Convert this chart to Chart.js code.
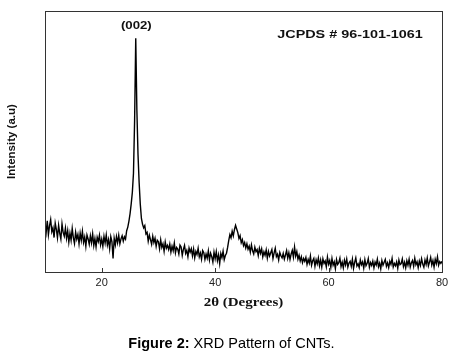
<!DOCTYPE html>
<html>
<head>
<meta charset="utf-8">
<script src="https://cdn.jsdelivr.net/npm/chart.js@4.4.1/dist/chart.umd.min.js"></script>
<style>
  html, body { margin: 0; padding: 0; background: #fff; }
  canvas { display: block; }
</style>
</head>
<body>
<canvas id="xrd" width="454" height="363"></canvas>
<script>
// 2-theta scan: 10 to 80 degrees, one reading every 0.2 degree
const thetaStart = 10;
const thetaStep = 0.2;
const tickLabels = [20, 40, 60, 80];
const peakLabels = ['(002)'];
const refCard = 'JCPDS # 96-101-1061';

// intensity (a.u.), rows of 2 degrees
const intensity = [
  18.2,15.1,19.6,14.3,17.8,20.1,15.4,16.9,13.2,18.7,
  16.3,13.1,17.9,14.8,12.6,18.4,15.2,13.7,16.8,12.9,
  15.8,11.4,14.9,12.2,16.7,13.1,10.9,15.3,12.6,14.4,
  10.8,14.9,12.1,15.6,11.3,13.4,9.8,14.2,12.7,10.6,
  13.9,11.2,14.6,10.1,12.8,9.6,13.3,11.7,14.1,10.4,
  12.6,9.8,13.7,11.1,14.2,10.3,12.4,8.9,13.5,11.6,
  5.2,12.9,10.4,13.6,11.2,14.1,10.8,12.7,13.9,11.8,
  13.5,12.6,15.8,17.2,19.5,22.4,26.1,30.5,37.8,58.0,
  89.6,62.0,45.0,34.2,26.0,20.5,18.3,16.9,17.8,14.6,
  15.2,11.8,14.1,12.4,10.6,13.7,11.3,12.9,9.8,12.2,
  11.6,8.9,12.3,9.4,10.8,7.9,11.5,9.1,10.2,8.6,
  10.7,7.6,9.9,8.2,11.1,7.3,9.4,8.8,6.9,10.3,
  9.6,6.4,8.7,10.2,7.1,8.3,5.9,9.2,7.6,8.9,
  6.2,8.8,5.4,7.9,6.7,9.1,5.8,7.3,4.9,8.2,
  7.4,4.8,6.9,5.3,8.1,4.6,7.2,5.9,3.8,7.6,
  5.1,7.8,4.4,6.6,3.2,7.1,5.5,8.0,4.7,6.3,
  7.2,9.4,12.1,14.3,13.1,15.6,13.8,16.2,17.9,16.5,
  15.1,12.8,13.9,11.2,12.4,10.1,11.3,9.2,10.8,8.7,
  9.9,7.6,10.4,8.1,6.9,9.5,7.8,8.6,6.3,9.1,
  7.2,8.9,5.8,7.7,6.4,8.5,5.3,7.9,6.1,7.4,
  8.6,5.2,7.3,9.1,5.9,6.8,4.6,7.5,6.2,5.4,
  7.1,4.9,6.5,8.2,5.3,7.4,4.8,6.9,8.3,5.7,
  9.6,6.1,7.8,4.9,6.4,4.2,5.8,3.6,5.2,4.1,
  5.6,2.9,4.8,3.4,6.1,2.6,4.3,5.2,2.2,4.7,
  3.1,5.4,2.4,4.6,1.9,5.1,3.3,4.2,2.0,5.7,
  3.0,4.4,1.8,5.2,2.6,3.9,1.3,4.8,2.9,3.6,
  5.3,2.1,3.8,1.6,4.5,2.7,5.0,1.9,3.4,4.1,
  2.2,4.9,1.4,3.7,5.4,2.3,3.1,1.7,4.6,2.8,
  3.9,1.5,4.7,2.4,3.3,5.1,1.8,3.6,2.5,4.2,
  1.6,3.8,2.7,4.9,2.0,3.4,1.2,4.4,2.6,3.7,
  4.8,2.2,3.5,1.7,4.1,2.9,5.2,1.9,3.3,2.4,
  3.9,1.4,4.6,2.8,3.2,5.0,2.1,3.7,1.6,4.3,
  2.6,4.9,1.9,3.5,4.4,2.2,5.3,2.8,3.9,1.7,
  4.2,2.5,5.1,3.0,1.8,4.6,2.9,5.4,2.3,3.8,
  5.6,2.7,4.4,1.9,4.9,3.2,5.8,2.6,4.0,3.3,
  4.1
];

const points = intensity.map((v, i) => ({ x: +(thetaStart + i * thetaStep).toFixed(1), y: v }));

// stretched text, the figure was scaled wider than tall
function drawText(ctx, text, x, y, font, sx, rot) {
  ctx.save();
  ctx.translate(x, y);
  if (rot) ctx.rotate(rot);
  ctx.scale(sx, 1);
  ctx.font = font;
  ctx.textAlign = 'center';
  ctx.textBaseline = 'middle';
  ctx.fillText(text, 0, 0);
  ctx.restore();
}

const frame = {
  id: 'frame',
  afterDraw(chart) {
    const ctx = chart.ctx;
    const a = chart.chartArea;
    const xs = chart.scales.x;
    ctx.save();
    ctx.strokeStyle = '#333';
    ctx.lineWidth = 1;
    ctx.strokeRect(Math.round(a.left) + 0.5, Math.round(a.top) + 0.5,
      Math.round(a.right - a.left), Math.round(a.bottom - a.top));
    // tick marks point inward
    ctx.beginPath();
    tickLabels.forEach(t => {
      const px = Math.round(xs.getPixelForValue(t)) + 0.5;
      ctx.moveTo(px, a.bottom);
      ctx.lineTo(px, a.bottom - 4);
    });
    ctx.stroke();

    ctx.fillStyle = '#111';
    drawText(ctx, peakLabels[0], xs.getPixelForValue(26.1), 26, 'bold 11px "Liberation Sans", Arial', 1.2);
    drawText(ctx, refCard, 350, 35, 'bold 11.5px "Liberation Sans", Arial', 1.25);
    drawText(ctx, 'Intensity (a.u)', 12, (a.top + a.bottom) / 2, 'bold 11.5px "Liberation Sans", Arial', 1, -Math.PI / 2);
    drawText(ctx, '2\u03b8 (Degrees)', (a.left + a.right) / 2, 303, 'bold 12px "Liberation Serif", "Times New Roman", serif', 1.25);

    // caption
    ctx.font = 'bold 14.5px "Liberation Sans", Arial';
    const w1 = ctx.measureText('Figure 2:').width;
    ctx.font = '14.5px "Liberation Sans", Arial';
    const w2 = ctx.measureText(' XRD Pattern of CNTs.').width;
    const x0 = 231.5 - (w1 + w2) / 2;
    ctx.textAlign = 'left';
    ctx.textBaseline = 'middle';
    ctx.fillStyle = '#000';
    ctx.font = 'bold 14.5px "Liberation Sans", Arial';
    ctx.fillText('Figure 2:', x0, 344);
    ctx.font = '14.5px "Liberation Sans", Arial';
    ctx.fillText(' XRD Pattern of CNTs.', x0 + w1, 344);
    ctx.restore();
  }
};

new Chart(document.getElementById('xrd').getContext('2d'), {
  type: 'line',
  data: {
    datasets: [{
      data: points,
      borderColor: '#000',
      borderWidth: 1.4,
      pointRadius: 0,
      tension: 0,
      fill: false
    }]
  },
  options: {
    responsive: false,
    animation: false,
    devicePixelRatio: 1,
    layout: { padding: { top: 11, right: 12, bottom: 0, left: 0 } },
    plugins: { legend: { display: false }, tooltip: { enabled: false } },
    scales: {
      x: {
        type: 'linear',
        min: 10,
        max: 80,
        grid: { display: false, drawTicks: false },
        border: { display: false },
        afterBuildTicks: s => { s.ticks = tickLabels.map(v => ({ value: v })); },
        afterFit: s => { s.height = 91; },
        ticks: {
          padding: 4,
          maxRotation: 0,
          color: '#222',
          font: { family: '"Liberation Sans", Arial', size: 11 }
        }
      },
      y: {
        min: 0,
        max: 100,
        grid: { display: false, drawTicks: false },
        border: { display: false },
        ticks: { display: false },
        afterFit: s => { s.width = 45; }
      }
    }
  },
  plugins: [frame]
});
</script>
</body>
</html>
